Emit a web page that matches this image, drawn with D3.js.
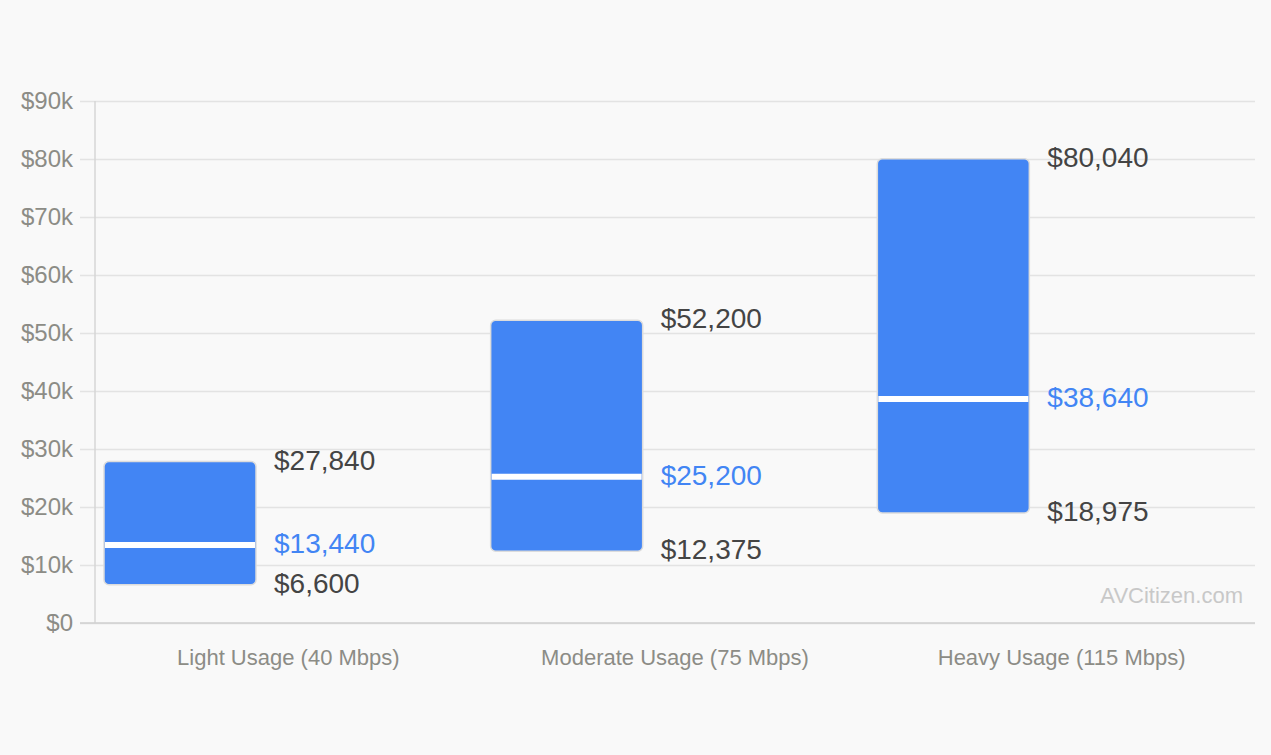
<!DOCTYPE html>
<html>
<head>
<meta charset="utf-8">
<script src="https://cdn.jsdelivr.net/npm/d3@7"></script>
<style>
  html, body { margin: 0; padding: 0; background: #f9f9f9; }
  svg { display: block; font-family: "Liberation Sans", Arial, sans-serif; }
</style>
</head>
<body>
<div id="chart"></div>
<script>
const categories = ["Light Usage (40 Mbps)", "Moderate Usage (75 Mbps)", "Heavy Usage (115 Mbps)"];
const lowValues = [6600, 12375, 18975];
const medianValues = [13440, 25200, 38640];
const highValues = [27840, 52200, 80040];
const yTicks = [0, 10000, 20000, 30000, 40000, 50000, 60000, 70000, 80000, 90000];

const width = 1271, height = 755;
const margin = { top: 101, right: 16, bottom: 132, left: 95 };

const svg = d3.select("#chart").append("svg")
    .attr("width", width)
    .attr("height", height);

const x = d3.scaleBand()
    .domain(categories)
    .range([margin.left, width - margin.right]);

const y = d3.scaleLinear()
    .domain([0, 90000])
    .range([height - margin.bottom, margin.top]);

const fmt = d3.format("$,");

// --- Gridlines + y labels ---
const yAxis = svg.append("g")
    .attr("transform", `translate(${margin.left},0)`)
    .call(d3.axisLeft(y).tickValues(yTicks)
        .tickSize(-(width - margin.right - margin.left))
        .tickPadding(22)
        .tickFormat(d => d === 0 ? "$0" : `$${d / 1000}k`));
yAxis.select(".domain").remove();
yAxis.selectAll(".tick line")
    .attr("x1", -15)
    .attr("stroke", "#e3e3e3")
    .attr("stroke-width", 1.5);
yAxis.selectAll(".tick text")
    .attr("fill", "#8c8c86")
    .attr("font-size", 24);

// axis lines
svg.append("line")
    .attr("x1", margin.left).attr("x2", margin.left)
    .attr("y1", margin.top).attr("y2", y(0))
    .attr("stroke", "#d6d6d6").attr("stroke-width", 1.5);
svg.append("line")
    .attr("x1", margin.left - 15).attr("x2", width - margin.right)
    .attr("y1", y(0)).attr("y2", y(0))
    .attr("stroke", "#d0d0d0").attr("stroke-width", 1.5);

// --- x labels ---
svg.append("g").selectAll("text")
    .data(categories)
    .enter().append("text")
    .attr("x", d => x(d) + x.bandwidth() / 2)
    .attr("y", y(0) + 42)
    .attr("text-anchor", "middle")
    .attr("fill", "#8c8c86")
    .attr("font-size", 22)
    .text(d => d);

// --- boxes ---
const boxOffset = 9, boxWidth = 152, labelOffset = 179;
const rows = categories.map((c, i) => ({ cat: c, low: lowValues[i], med: medianValues[i], high: highValues[i] }));

const box = svg.append("g").selectAll("g")
    .data(rows)
    .enter().append("g");

box.append("rect")
    .attr("x", d => x(d.cat) + boxOffset)
    .attr("y", d => y(d.high))
    .attr("width", boxWidth)
    .attr("height", d => y(d.low) - y(d.high))
    .attr("rx", 5)
    .attr("fill", "#4285f4")
    .attr("stroke", "#dcdcdc")
    .attr("stroke-width", 1.5);

box.append("line")
    .attr("x1", d => x(d.cat) + boxOffset + 1)
    .attr("x2", d => x(d.cat) + boxOffset + boxWidth - 1)
    .attr("y1", d => y(d.med))
    .attr("y2", d => y(d.med))
    .attr("stroke", "#ffffff")
    .attr("stroke-width", 6);

const labels = [
    { key: "high", color: "#444444" },
    { key: "med", color: "#4285f4" },
    { key: "low", color: "#444444" }
];
labels.forEach(l => {
    box.append("text")
        .attr("x", d => x(d.cat) + labelOffset)
        .attr("y", d => y(d[l.key]))
        .attr("dy", "0.29em")
        .attr("fill", l.color)
        .attr("font-size", 28)
        .text(d => fmt(d[l.key]));
});

// watermark
svg.append("text")
    .attr("x", width - 28)
    .attr("y", 595)
    .attr("dy", "0.35em")
    .attr("text-anchor", "end")
    .attr("fill", "#c8c8c8")
    .attr("font-size", 22)
    .text("AVCitizen.com");
</script>
</body>
</html>
